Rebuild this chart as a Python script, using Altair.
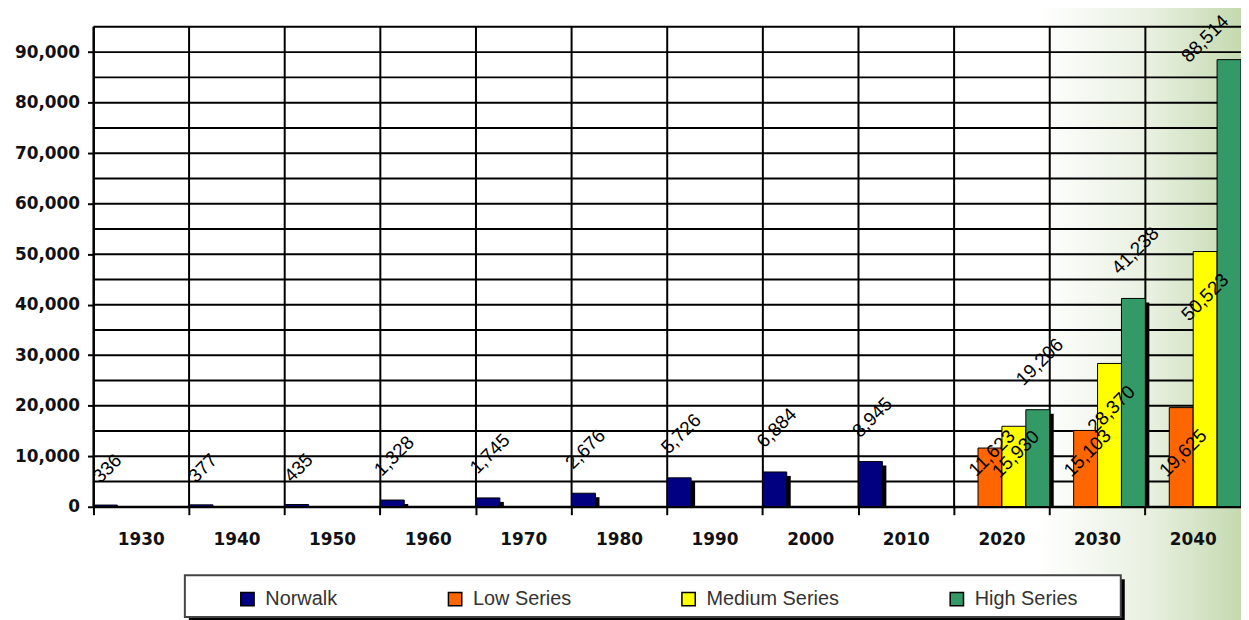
import altair as alt
import pandas as pd

years = ["1930", "1940", "1950", "1960", "1970", "1980", "1990", "2000", "2010", "2020", "2030", "2040"]
norwalk = [336, 377, 435, 1328, 1745, 2676, 5726, 6884, 8945, None, None, None]
low_series = [None, None, None, None, None, None, None, None, None, 11623, 15103, 19625]
medium_series = [None, None, None, None, None, None, None, None, None, 15930, 28370, 50523]
high_series = [None, None, None, None, None, None, None, None, None, 19206, 41238, 88514]
series_names = ["Norwalk", "Low Series", "Medium Series", "High Series"]
series_colors = ["#000080", "#FF6600", "#FFFF00", "#339966"]
y_tick_values = [0, 10000, 20000, 30000, 40000, 50000, 60000, 70000, 80000, 90000]
grid_values = [0, 5000, 10000, 15000, 20000, 25000, 30000, 35000, 40000, 45000,
               50000, 55000, 60000, 65000, 70000, 75000, 80000, 85000, 90000, 95000]

rows = []
for name, vals in zip(series_names, [norwalk, low_series, medium_series, high_series]):
    for yr, v in zip(years, vals):
        if v is not None:
            rows.append({"year": yr, "series": name, "value": v, "label": f"{v:,}"})
df = pd.DataFrame(rows)
grid_df = pd.DataFrame({"value": grid_values})
years_df = pd.DataFrame({"year": years})
one = pd.DataFrame({"k": [0]})

W, H = 1155, 483

x_axis = alt.Axis(title=None, bandPosition=0, labelOffset=0, labelAngle=0,
                  tickSize=8, tickWidth=2, tickColor="black", domainColor="black",
                  domainWidth=2, labelFont="DejaVu Sans", labelFontWeight="bold",
                  labelFontSize=17, labelColor="#111", labelPadding=17, grid=False, zindex=1)
y_axis = alt.Axis(title=None, values=y_tick_values,
                  labelExpr="datum.value == 0 ? '0' : floor(datum.value / 1000) + ',000'",
                  tickSize=6, tickWidth=2,
                  tickColor="black", domainColor="black", domainWidth=2,
                  labelFont="DejaVu Sans", labelFontWeight="bold", labelFontSize=17,
                  labelColor="#111", labelPadding=8, grid=False, zindex=1)

x_scale = alt.Scale(domain=years, paddingInner=0, paddingOuter=0)
y_scale = alt.Scale(domain=[0, 95000], nice=False, zero=True)
xoff = alt.XOffset("series:N", sort=series_names,
                   scale=alt.Scale(domain=series_names, paddingInner=0, paddingOuter=0))

x_enc = alt.X("year:N", sort=years, scale=x_scale, axis=x_axis)
y_enc = alt.Y("value:Q", scale=y_scale, axis=y_axis)

grad = alt.LinearGradient(
    gradient="linear",
    stops=[alt.GradientStop(color="#ffffff", offset=0),
           alt.GradientStop(color="#ffffff", offset=0.83),
           alt.GradientStop(color="#e8f0e0", offset=0.92),
           alt.GradientStop(color="#c0d7aa", offset=1)],
    x1=0, x2=1, y1=0, y2=0)

background = alt.Chart(one).mark_rect(color=grad).encode(
    x=alt.value(-94), x2=alt.value(W + 10), y=alt.value(-30), y2=alt.value(H + 130))

legend_shadow = alt.Chart(one).mark_rect(color="black").encode(
    x=alt.value(96), x2=alt.value(1038), y=alt.value(556), y2=alt.value(598))
legend_box = alt.Chart(one).mark_rect(fill="white", stroke="#444", strokeWidth=2).encode(
    x=alt.value(92), x2=alt.value(1034), y=alt.value(552), y2=alt.value(594))

h_grid = alt.Chart(grid_df).mark_rule(color="black", strokeWidth=2).encode(y=y_enc)
v_grid = alt.Chart(years_df).mark_rule(color="black", strokeWidth=2).encode(
    x=alt.X("year:N", sort=years, scale=x_scale, axis=x_axis, bandPosition=0))

bar_left = "(scale('x', datum.year) + scale('xOffset', datum.series))"
shadows = alt.Chart(df).mark_rect(color="black").encode(
    x=alt.value({"expr": f"{bar_left} + 4"}),
    x2=alt.value({"expr": f"{bar_left} + bandwidth('xOffset') + 4"}),
    y=alt.value({"expr": "min(scale('y', datum.value) + 4, height)"}),
    y2=alt.value({"expr": "height"}))

bars = alt.Chart(df).mark_bar(stroke="black", strokeWidth=1).encode(
    x=x_enc, xOffset=xoff, y=y_enc,
    color=alt.Color("series:N", sort=series_names,
                    scale=alt.Scale(domain=series_names, range=series_colors),
                    legend=alt.Legend(title=None, orient="none", legendX=145, legendY=566,
                                      direction="horizontal", columns=4, symbolType="square",
                                      symbolSize=180, symbolStrokeColor="black",
                                      symbolStrokeWidth=1.5, labelFont="Liberation Sans",
                                      labelFontSize=20, labelColor="#333", columnPadding=108,
                                      labelOffset=8, padding=0)))

half = "((length(datum.label) * 10.6 + 13) / 2.83)"
bx = "(scale('x', datum.year) + scale('xOffset', datum.series) + bandwidth('xOffset') / 2)"
by = "scale('y', datum.value)"
x_expr = f"min({bx} + 2, width - 9 - {half})"
y_expr = (f"datum.series == 'Low Series' ? height - 27 - {half} : "
          f"datum.series == 'Medium Series' ? min({by} + 19 + {half}, height - 26 - {half}) : "
          f"max({by} - 21 - {half}, {half} - 15)")

labels = alt.Chart(df).mark_text(angle=315, align="center", baseline="middle",
                                 font="Liberation Sans", fontSize=19, color="black").encode(
    x=alt.value({"expr": x_expr}), y=alt.value({"expr": y_expr}), text="label:N")

chart = alt.layer(background, legend_shadow, legend_box, h_grid, v_grid, shadows, bars, labels).properties(
    width=W, height=H,
    autosize=alt.AutoSizeParams(type="none"),
    padding={"left": 86, "top": 17, "right": 0, "bottom": 112},
    background="white",
).configure_view(stroke=None)

chart.save("out.html", embed_options={"renderer": "svg", "actions": False})
